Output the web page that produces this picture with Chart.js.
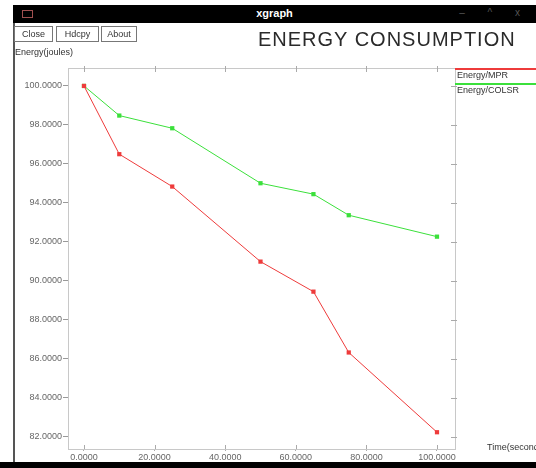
<!DOCTYPE html>
<html>
<head>
<meta charset="utf-8">
<script src="https://cdn.jsdelivr.net/npm/chart.js@4"></script>
<style>
  html, body { margin: 0; padding: 0; width: 536px; height: 468px; overflow: hidden; background: #fff; font-family: "Liberation Sans", Arial, sans-serif; }
  #wrap { position: relative; width: 536px; height: 468px; overflow: hidden; }
  #graph { position: absolute; left: 0; top: 0; }
  .abs { position: absolute; white-space: nowrap; }
  #titlebar { left: 13px; top: 5px; width: 523px; height: 18px; background: #000; }
  #titlebar .name { position: absolute; left: 0; width: 100%; top: 2px; text-align: center; color: #fff; font-size: 11px; font-weight: bold; }
  #titlebar .icon { position: absolute; left: 9px; top: 5px; width: 9px; height: 6px; border: 1px solid #a05050; }
  #titlebar .ctl { position: absolute; right: 6px; top: 2px; color: #555; font-size: 10px; letter-spacing: 10px; }
  #leftedge { left: 13px; top: 23px; width: 2px; height: 440px; background: #555; }
  #bottombar { left: 0; top: 462px; width: 536px; height: 6px; background: #000; }
  .btn { top: 26px; height: 14px; border: 1px solid #777; font-size: 9px; line-height: 14px; color: #333; text-align: center; }
  #title { left: 258px; top: 28px; font-size: 20px; color: #2a2a2a; letter-spacing: 1px; }
  #ylabel { left: 15px; top: 47px; font-size: 9px; color: #333; }
  #xlabel { left: 487px; top: 442px; font-size: 9px; color: #333; }
  .leg { left: 455px; width: 81px; font-size: 9px; color: #333; }
  .leg .ln { height: 2px; width: 100%; }
  .leg .tx { padding-left: 2px; line-height: 10px; }
</style>
</head>
<body>
<div id="wrap">
  <canvas id="graph" width="536" height="468"></canvas>
  <div class="abs" id="titlebar"><div class="icon"></div><div class="name">xgraph</div><div class="ctl">– ^ x</div></div>
  <div class="abs" id="leftedge"></div>
  <div class="abs btn" style="left:14px;width:37px;">Close</div>
  <div class="abs btn" style="left:56px;width:41px;">Hdcpy</div>
  <div class="abs btn" style="left:101px;width:34px;">About</div>
  <div class="abs" id="title">ENERGY CONSUMPTION</div>
  <div class="abs" id="ylabel">Energy(joules)</div>
  <div class="abs" id="xlabel">Time(seconds)</div>
  <div id="legend"></div>
  <div class="abs" id="bottombar"></div>
</div>
<script>
// データ
const times       = [0, 10, 25, 50, 65, 75, 100];
const energy_mpr   = [100.0, 96.5, 94.84, 90.99, 89.45, 86.33, 82.24];
const energy_colsr = [100.0, 98.48, 97.83, 95.01, 94.45, 93.37, 92.27];
const series_names  = ["Energy/MPR", "Energy/COLSR"];
const series_colors = ["#ee3b3b", "#3be03b"];
const x_ticks = [0, 20, 40, 60, 80, 100];
const y_ticks = [82, 84, 86, 88, 90, 92, 94, 96, 98, 100];

window.addEventListener("load", function () {
    draw_legend();
    draw_graph();
});

function draw_legend() {
    let legend = document.getElementById("legend");
    let tops = [68, 83];
    for (let i = 0; i < series_names.length; i++) {
        let div = document.createElement("div");
        div.className = "abs leg";
        div.style.top = tops[i] + "px";
        div.innerHTML = '<div class="ln" style="background:' + series_colors[i] + '"></div><div class="tx">' + series_names[i] + '</div>';
        legend.appendChild(div);
    }
}

// 枠と上・右の目盛り
const frame_plugin = {
    id: "frame",
    afterDraw(chart) {
        const ctx = chart.ctx;
        const a = chart.chartArea;
        const xs = chart.scales.x, ys = chart.scales.y;
        ctx.save();
        ctx.strokeStyle = "#c8c8c8";
        ctx.lineWidth = 1;
        ctx.strokeRect(a.left + 0.5, a.top + 0.5, a.right - a.left, a.bottom - a.top);
        ctx.strokeStyle = "#aaa";
        ctx.beginPath();
        for (let t of x_ticks) {
            let px = Math.round(xs.getPixelForValue(t)) + 0.5;
            ctx.moveTo(px, a.top - 2); ctx.lineTo(px, a.top + 4);
            ctx.moveTo(px, a.bottom - 4); ctx.lineTo(px, a.bottom);
        }
        for (let t of y_ticks) {
            let py = Math.round(ys.getPixelForValue(t)) + 0.5;
            ctx.moveTo(a.right - 4, py); ctx.lineTo(a.right + 2, py);
        }
        ctx.stroke();
        ctx.restore();
    }
};

function draw_graph() {
    const data_sets = [energy_mpr, energy_colsr].map(function (vals, i) {
        return {
            label: series_names[i],
            data: times.map(function (t, j) { return { x: t, y: vals[j] }; }),
            borderColor: series_colors[i],
            backgroundColor: series_colors[i],
            borderWidth: 1,
            pointStyle: "rect",
            pointRadius: 3,
            pointBorderWidth: 0,
            tension: 0
        };
    });

    const ctx = document.getElementById("graph").getContext("2d");
    const myChart = new Chart(ctx, {
        type: "line",
        data: { datasets: data_sets },
        plugins: [frame_plugin],
        options: {
            responsive: false,
            animation: false,
            layout: { padding: { left: 0, top: 68, right: 81, bottom: 0 } },
            plugins: { legend: { display: false }, tooltip: { enabled: false } },
            scales: {
                x: {
                    type: "linear",
                    min: -4.53, max: 105.1,
                    afterBuildTicks: function (s) { s.ticks = x_ticks.map(function (v) { return { value: v }; }); },
                    afterFit: function (s) { s.height = 19; },
                    grid: { drawOnChartArea: false, drawTicks: true, tickLength: 2, color: "#aaa" },
                    border: { display: false },
                    ticks: {
                        padding: 1, color: "#666", maxRotation: 0, autoSkip: false,
                        font: { family: "Liberation Sans", size: 9 },
                        callback: function (v) { return Number(v).toFixed(4); }
                    }
                },
                y: {
                    min: 81.38, max: 100.92,
                    afterBuildTicks: function (s) { s.ticks = y_ticks.map(function (v) { return { value: v }; }); },
                    afterFit: function (s) { s.width = 68; },
                    grid: { drawOnChartArea: false, drawTicks: true, tickLength: 5, color: "#999" },
                    border: { display: false },
                    ticks: {
                        padding: 1, color: "#666", autoSkip: false,
                        font: { family: "Liberation Sans", size: 9 },
                        callback: function (v) { return Number(v).toFixed(4); }
                    }
                }
            }
        }
    });
}
</script>
</body>
</html>
